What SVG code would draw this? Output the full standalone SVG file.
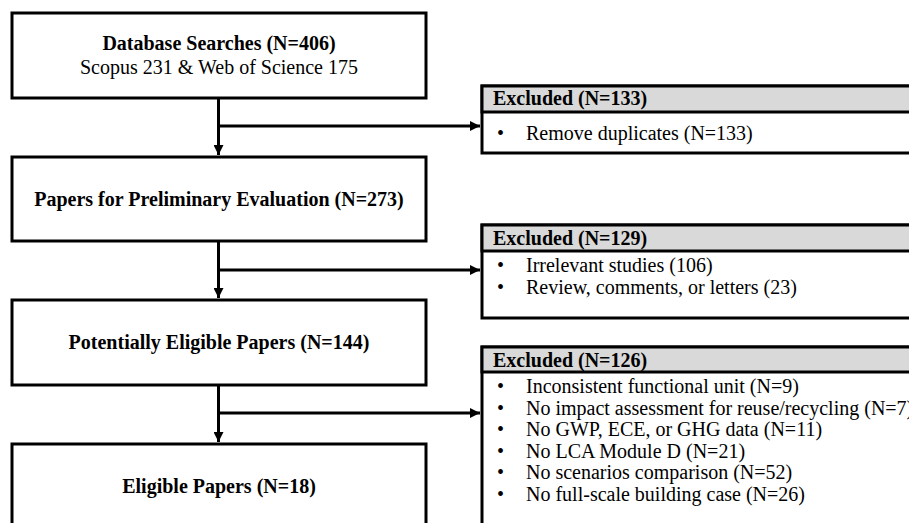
<svg xmlns="http://www.w3.org/2000/svg" width="909" height="523" viewBox="0 0 909 523">
<style>
.box{fill:#ffffff;stroke:#000000;stroke-width:3}
.hdr{fill:#d9d9d9;stroke:#000000;stroke-width:3}
.t{font-family:"Liberation Serif","Times New Roman",serif;font-size:20px;fill:#000000}
.b{font-weight:bold}
.c{text-anchor:middle}
.ln{fill:none;stroke:#000000;stroke-width:3}
</style>
<defs>
<marker id="ah" viewBox="0 0 10 10" refX="10" refY="5" markerWidth="10" markerHeight="10" markerUnits="userSpaceOnUse" orient="auto">
<path d="M0,0 L10,5 L0,10 Z" fill="#000000"/>
</marker>
</defs>
<rect width="909" height="523" fill="#ffffff"/>
<g id="connectors">
<path class="ln" d="M218.5,98 V155" marker-end="url(#ah)"/>
<path class="ln" d="M218.5,126 H480" marker-end="url(#ah)"/>
<path class="ln" d="M218.5,241 V298" marker-end="url(#ah)"/>
<path class="ln" d="M218.5,270 H480" marker-end="url(#ah)"/>
<path class="ln" d="M218.5,385 V442" marker-end="url(#ah)"/>
<path class="ln" d="M218.5,413 H480" marker-end="url(#ah)"/>
</g>
<g id="n1">
<rect class="box" x="12" y="13" width="414" height="85"/>
<text class="t b c" x="219" y="50">Database Searches (N=406)</text>
<text class="t c" x="219" y="74">Scopus 231 &amp; Web of Science 175</text>
</g>
<g id="n2">
<rect class="box" x="12" y="157" width="414" height="84"/>
<text class="t b c" x="219" y="206">Papers for Preliminary Evaluation (N=273)</text>
</g>
<g id="n3">
<rect class="box" x="12" y="300" width="414" height="85"/>
<text class="t b c" x="219" y="349">Potentially Eligible Papers (N=144)</text>
</g>
<g id="n4">
<rect class="box" x="12" y="444" width="414" height="90"/>
<text class="t b c" x="219" y="493">Eligible Papers (N=18)</text>
</g>
<g id="ex1">
<rect class="box" x="482" y="86" width="440" height="67"/>
<rect class="hdr" x="482" y="86" width="440" height="26"/>
<text class="t b" x="493" y="105">Excluded (N=133)</text>
<text class="t" x="497" y="140">•</text>
<text class="t" x="526" y="140">Remove duplicates (N=133)</text>
</g>
<g id="ex2">
<rect class="box" x="482" y="225" width="440" height="93"/>
<rect class="hdr" x="482" y="225" width="440" height="26"/>
<text class="t b" x="493" y="245">Excluded (N=129)</text>
<text class="t" x="497" y="272">•</text>
<text class="t" x="526" y="272">Irrelevant studies (106)</text>
<text class="t" x="497" y="294">•</text>
<text class="t" x="526" y="294">Review, comments, or letters (23)</text>
</g>
<g id="ex3">
<rect class="box" x="482" y="347" width="440" height="190"/>
<rect class="hdr" x="482" y="347" width="440" height="25"/>
<text class="t b" x="493" y="367">Excluded (N=126)</text>
<text class="t" x="497" y="393">•</text>
<text class="t" x="526" y="393">Inconsistent functional unit (N=9)</text>
<text class="t" x="497" y="415">•</text>
<text class="t" x="526" y="415">No impact assessment for reuse/recycling (N=7)</text>
<text class="t" x="497" y="436">•</text>
<text class="t" x="526" y="436">No GWP, ECE, or GHG data (N=11)</text>
<text class="t" x="497" y="458">•</text>
<text class="t" x="526" y="458">No LCA Module D (N=21)</text>
<text class="t" x="497" y="479">•</text>
<text class="t" x="526" y="479">No scenarios comparison (N=52)</text>
<text class="t" x="497" y="501">•</text>
<text class="t" x="526" y="501">No full-scale building case (N=26)</text>
</g>
</svg>
